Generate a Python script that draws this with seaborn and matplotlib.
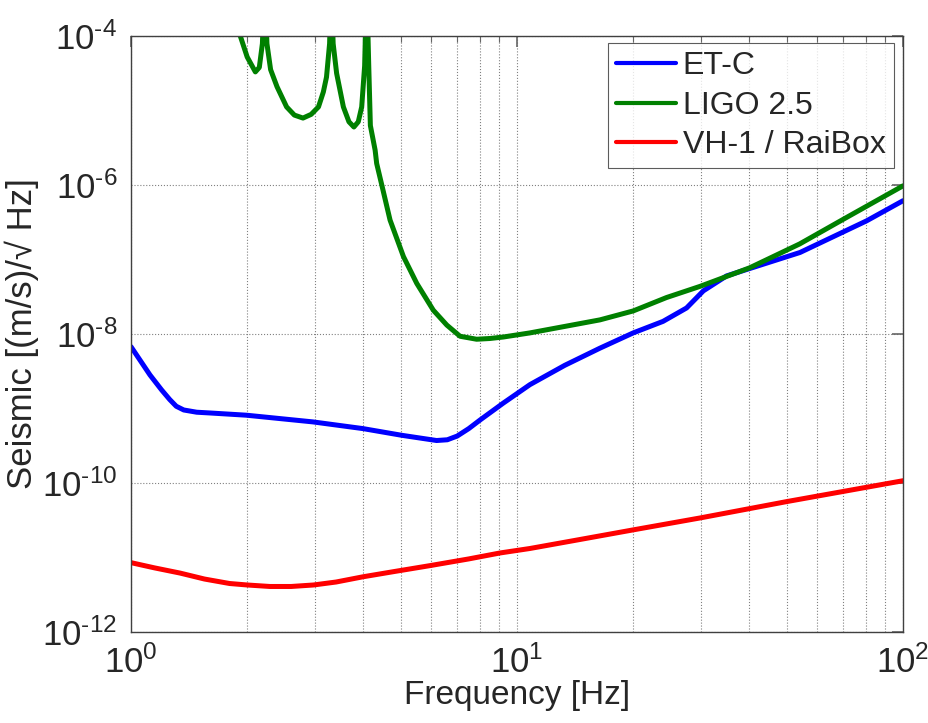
import matplotlib
matplotlib.use("Agg")
import matplotlib.pyplot as plt
import matplotlib.ticker as mticker
import seaborn as sns
import pandas as pd

# curves (frequency in Hz, log10 of the value)
etc_f = [1.0, 1.12, 1.20, 1.26, 1.31, 1.37, 1.48, 1.6, 1.99, 2.96, 3.99, 5.03, 6.19, 6.6,
         7.0, 7.5, 8.02, 9.2, 10.8, 13.3, 16.4, 20.0, 23.9, 27.5, 30.4, 34.9, 40.1, 54.1,
         80.5, 100]
etc_log = [-8.17, -8.55, -8.75, -8.88, -8.97, -9.02, -9.05, -9.06, -9.09, -9.18, -9.27, -9.36,
           -9.43, -9.42, -9.37, -9.27, -9.155, -8.93, -8.68, -8.42, -8.19, -7.985, -7.83,
           -7.65, -7.42, -7.22, -7.12, -6.905, -6.48, -6.21]

ligo_f = [1.80, 1.92, 2.00, 2.10, 2.15, 2.19, 2.22, 2.25, 2.30, 2.39, 2.53, 2.65, 2.79,
          2.93, 3.06, 3.15, 3.21, 3.27, 3.30, 3.34, 3.41, 3.55, 3.67, 3.78, 3.88, 3.96,
          4.03, 4.08, 4.13, 4.17, 4.29, 4.33, 4.46, 4.69, 5.08, 5.50, 6.07, 6.58, 7.12,
          7.86, 8.51, 9.22, 10.8, 16.4, 20.0, 24.4, 29.8, 40.1, 54.0, 70.0, 100]
ligo_log = [-3.5, -4.0, -4.28, -4.48, -4.42, -4.1, -3.3, -4.1, -4.45, -4.68, -4.95, -5.06, -5.10,
            -5.05, -4.95, -4.75, -4.55, -4.1, -3.3, -4.1, -4.50, -4.95, -5.15, -5.22, -5.15, -4.95,
            -4.4, -3.3, -4.4, -5.2, -5.53, -5.71, -5.99, -6.47, -6.96, -7.32, -7.68, -7.88, -8.03,
            -8.07, -8.06, -8.04, -7.985, -7.81, -7.69, -7.51, -7.36, -7.11, -6.79, -6.46, -6.01]

vh1_f = [1.0, 1.15, 1.34, 1.55, 1.80, 2.0, 2.29, 2.6, 2.97, 3.4, 3.99, 4.8, 5.95, 7.5, 9.04,
         10.8, 14.0, 20.0, 29.8, 50.0, 100]
vh1_log = [-11.07, -11.14, -11.21, -11.29, -11.35, -11.37, -11.39, -11.39, -11.37, -11.33,
           -11.26, -11.19, -11.11, -11.02, -10.94, -10.88, -10.775, -10.63, -10.47, -10.25, -9.97]

names = ["ET-C", "LIGO 2.5", "VH-1 / RaiBox"]
colors = ["#0000ff", "#008000", "#ff0000"]

yticks_exp = [-12, -10, -8, -6, -4]
xticks_exp = [0, 1, 2]

frames = []
for name, f, lg in zip(names, [etc_f, ligo_f, vh1_f], [etc_log, ligo_log, vh1_log]):
    frames.append(pd.DataFrame({"f": f, "v": [10.0 ** x for x in lg], "curve": name}))
df = pd.concat(frames, ignore_index=True)

sns.set_style("white")
plt.rcParams["font.family"] = ["Liberation Sans", "DejaVu Sans"]
plt.rcParams["mathtext.fontset"] = "custom"
plt.rcParams["mathtext.rm"] = "Liberation Sans"
plt.rcParams["mathtext.it"] = "Liberation Sans:italic"
plt.rcParams["mathtext.bf"] = "Liberation Sans:bold"
plt.rcParams["axes.unicode_minus"] = False


def exp_label(e):
    s = str(e).replace("-", r"\text{-}")
    return r"$\mathregular{10^{%s}}$" % s


fig = plt.figure(figsize=(9.29, 7.23), dpi=100)
ax = fig.add_axes([0.141, 0.126, 0.831, 0.824])

sns.lineplot(data=df, x="f", y="v", hue="curve", hue_order=names,
             palette=dict(zip(names, colors)), estimator=None, sort=False,
             lw=3.6, ax=ax)
for ln in ax.get_lines():
    ln.set_solid_joinstyle("round")

ax.set_xscale("log")
ax.set_yscale("log")
ax.set_xlim(1, 100)
ax.set_ylim(1e-12, 1e-4)

ax.set_xticks([10.0 ** e for e in xticks_exp])
ax.set_xticklabels([exp_label(e) for e in xticks_exp])
ax.set_yticks([10.0 ** e for e in yticks_exp])
ax.set_yticklabels([exp_label(e) for e in yticks_exp])
ax.yaxis.set_minor_locator(mticker.NullLocator())
ax.xaxis.set_minor_locator(mticker.LogLocator(base=10, subs=range(2, 10)))
ax.xaxis.set_minor_formatter(mticker.NullFormatter())

ax.grid(True, which="major", ls=":", color="0.5", lw=0.8)
ax.grid(True, which="minor", axis="x", ls=":", color="0.5", lw=0.8)
ax.tick_params(which="both", direction="in", top=True, right=True, color="0.4")
ax.tick_params(which="major", length=8, width=1.2, labelsize=25, pad=10)
ax.tick_params(which="minor", length=4, width=0.8)
for s in ax.spines.values():
    s.set_color("0.25")
    s.set_linewidth(1.0)

ax.set_xlabel("Frequency [Hz]", fontsize=24, labelpad=0)
ax.set_ylabel("Seismic [(m/s)/\u221a Hz]", fontsize=25, labelpad=2)

leg = ax.legend(loc="upper right", bbox_to_anchor=(0.988, 0.988), borderaxespad=0,
                fontsize=23, handlelength=1.9, handletextpad=0.2, labelspacing=0.3,
                borderpad=0.25, frameon=True, fancybox=False, edgecolor="0.2")
leg.get_frame().set_linewidth(0.8)
for h in leg.get_lines():
    h.set_linewidth(3.0)

fig.savefig("out.png", dpi=100)
